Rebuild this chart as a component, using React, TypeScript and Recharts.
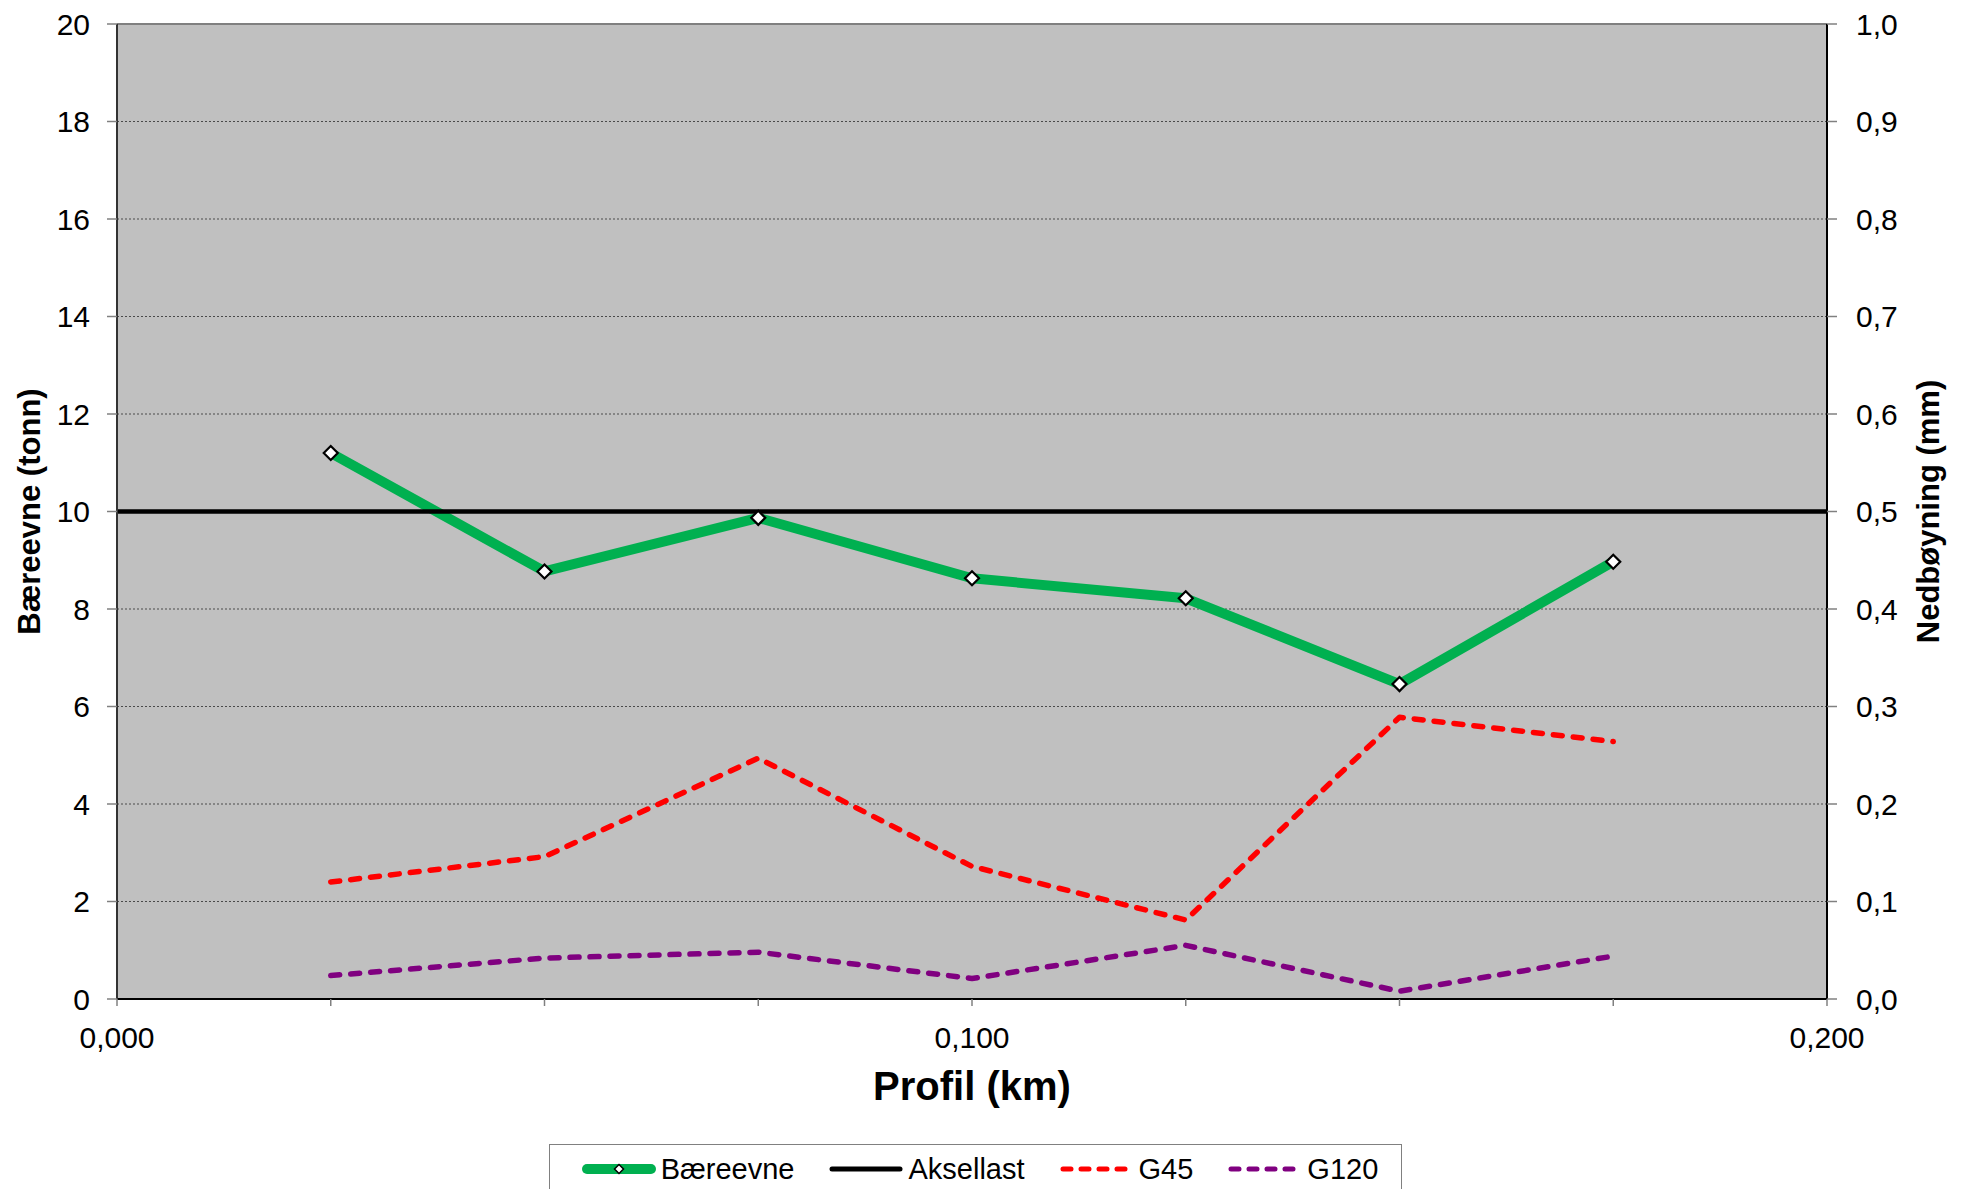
import {
  CartesianGrid,
  Legend,
  Line,
  LineChart,
  ReferenceLine,
  XAxis,
  YAxis,
} from "recharts";

const PROFIL_KM = [0.025, 0.05, 0.075, 0.1, 0.125, 0.15, 0.175];
const BAEREEVNE = [11.2, 8.77, 9.87, 8.63, 8.22, 6.46, 8.97];
const G45 = [0.12, 0.146, 0.247, 0.136, 0.081, 0.289, 0.264];
const G120 = [0.024, 0.042, 0.048, 0.021, 0.055, 0.008, 0.044];
const AKSELLAST_KM = [0, 0.2];
const AKSELLAST = [10, 10];

const X_TICKS = [0, 0.025, 0.05, 0.075, 0.1, 0.125, 0.15, 0.175, 0.2];
const X_TICK_LABELS = ["0,000", "", "", "", "0,100", "", "", "", "0,200"];
const LEFT_TICKS = [0, 2, 4, 6, 8, 10, 12, 14, 16, 18, 20];
const RIGHT_TICKS = [0, 0.1, 0.2, 0.3, 0.4, 0.5, 0.6, 0.7, 0.8, 0.9, 1];

const FONT = '"Liberation Sans", Arial, Helvetica, sans-serif';

type Series = {
  key: string;
  name: string;
  axis: "left" | "right";
  color: string;
  width: number;
  dash?: string;
  marker?: boolean;
};

const SERIES: Series[] = [
  { key: "baereevne", name: "Bæreevne", axis: "left", color: "#00B050", width: 10, marker: true },
  { key: "aksellast", name: "Aksellast", axis: "left", color: "#000000", width: 4.5 },
  { key: "g45", name: "G45", axis: "right", color: "#FF0000", width: 5.5, dash: "9 11" },
  { key: "g120", name: "G120", axis: "right", color: "#800080", width: 5.5, dash: "9 11" },
];

const rows: Record<string, number>[] = [
  ...AKSELLAST_KM.map((km, i) => ({ km, aksellast: AKSELLAST[i] })),
  ...PROFIL_KM.map((km, i) => ({ km, baereevne: BAEREEVNE[i], g45: G45[i], g120: G120[i] })),
].sort((a, b) => a.km - b.km);

function diamondPath(cx: number, cy: number, r: number) {
  return `M${cx},${cy - r}L${cx + r},${cy}L${cx},${cy + r}L${cx - r},${cy}Z`;
}

function DiamondDot(props: any) {
  const { cx, cy, index } = props;
  if (cx == null || cy == null || Number.isNaN(cy) || props.value == null) {
    return <g key={`empty-${index}`} />;
  }
  return (
    <path
      key={`diamond-${index}`}
      d={diamondPath(cx, cy, 7)}
      fill="#fff"
      stroke="#000"
      strokeWidth={2.2}
    />
  );
}

function LegendBox() {
  return (
    <div
      style={{
        boxSizing: "border-box",
        width: 853,
        height: 48,
        border: "1px solid #808080",
        background: "#fff",
        display: "flex",
        alignItems: "center",
        justifyContent: "center",
        fontFamily: FONT,
        fontSize: 29,
        color: "#000",
        gap: 34,
        paddingTop: 2,
        paddingLeft: 8,
      }}
    >
      {SERIES.map((s) => (
        <div key={s.key} style={{ display: "flex", alignItems: "center" }}>
          <svg width={76} height={16} style={{ marginRight: 4 }}>
            <line
              x1={s.marker ? 6 : 4}
              x2={s.marker ? 70 : 72}
              y1={8}
              y2={8}
              stroke={s.color}
              strokeWidth={s.marker ? 10 : 5}
              strokeDasharray={s.dash ? "8 10" : undefined}
              strokeLinecap="round"
            />
            {s.marker && (
              <path d={diamondPath(38, 8, 4.5)} fill="#fff" stroke="#000" strokeWidth={1.5} />
            )}
          </svg>
          <span style={{ lineHeight: 1 }}>{s.name}</span>
        </div>
      ))}
    </div>
  );
}

export default function App() {
  return (
    <div
      style={{
        position: "absolute",
        left: 0,
        top: 0,
        width: 1966,
        height: 1189,
        background: "#fff",
        fontFamily: FONT,
        overflow: "hidden",
      }}
    >
      <LineChart
        width={1966}
        height={1189}
        data={rows}
        margin={{ top: 24, right: 0, bottom: 0, left: 0 }}
      >
        <CartesianGrid
          yAxisId="left"
          vertical={false}
          fill="#C0C0C0"
          fillOpacity={1}
          stroke="#4a4a4a"
          strokeDasharray="2 2"
        />
        <XAxis
          dataKey="km"
          type="number"
          domain={[0, 0.2]}
          ticks={X_TICKS}
          interval={0}
          tickFormatter={(_v, i) => X_TICK_LABELS[i]}
          height={190}
          tickSize={7}
          tickMargin={21}
          tick={{ fill: "#000", fontSize: 30 }}
          tickLine={{ stroke: "#808080", strokeWidth: 1.5 }}
          axisLine={{ stroke: "#000", strokeWidth: 2 }}
          label={{
            value: "Profil (km)",
            position: "insideTop",
            offset: 73,
            style: { fontSize: 40, fontWeight: "bold", fill: "#000" },
          }}
        />
        <YAxis
          yAxisId="left"
          orientation="left"
          domain={[0, 20]}
          ticks={LEFT_TICKS}
          interval={0}
          width={117}
          tickSize={10}
          tickMargin={17}
          tick={{ fill: "#000", fontSize: 30 }}
          tickLine={{ stroke: "#808080", strokeWidth: 1.5 }}
          axisLine={{ stroke: "#333", strokeWidth: 2 }}
          label={{
            value: "Bæreevne (tonn)",
            angle: -90,
            position: "insideLeft",
            offset: 29,
            style: { textAnchor: "middle", fontSize: 31, fontWeight: "bold", fill: "#000" },
          }}
        />
        <YAxis
          yAxisId="right"
          orientation="right"
          domain={[0, 1]}
          ticks={RIGHT_TICKS}
          interval={0}
          width={139}
          tickSize={10}
          tickMargin={19}
          tickFormatter={(v: number) => v.toFixed(1).replace(".", ",")}
          tick={{ fill: "#000", fontSize: 30 }}
          tickLine={{ stroke: "#808080", strokeWidth: 1.5 }}
          axisLine={{ stroke: "#000", strokeWidth: 2 }}
          label={{
            value: "Nedbøyning (mm)",
            angle: -90,
            position: "insideRight",
            offset: 38,
            style: { textAnchor: "middle", fontSize: 31, fontWeight: "bold", fill: "#000" },
          }}
        />
        <ReferenceLine yAxisId="left" y={20} stroke="#808080" strokeWidth={2} />
        {SERIES.map((s) => (
          <Line
            key={s.key}
            yAxisId={s.axis}
            type="linear"
            dataKey={s.key}
            name={s.name}
            stroke={s.color}
            strokeWidth={s.width}
            strokeDasharray={s.dash}
            strokeLinecap={s.dash ? "round" : "butt"}
            strokeLinejoin="round"
            connectNulls
            dot={s.marker ? DiamondDot : false}
            activeDot={false}
            isAnimationActive={false}
            legendType="line"
          />
        ))}
        <Legend
          layout="horizontal"
          verticalAlign="middle"
          align="center"
          content={() => <LegendBox />}
          wrapperStyle={{ left: 549, top: 1144, width: 853, height: 48 }}
        />
      </LineChart>
    </div>
  );
}
